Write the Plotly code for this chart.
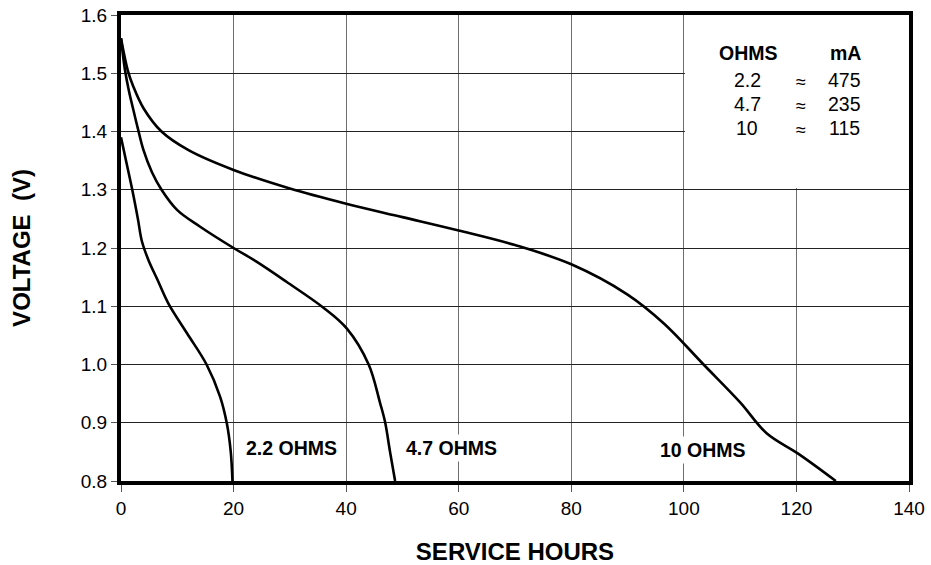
import plotly.graph_objects as go

# ---- data ----
x_10 = [0, 1.2, 2.2, 4, 7.2, 12, 20, 30, 40, 50, 60, 70, 80, 90, 96.5, 103.5, 110, 114.7, 120.3, 127]
v_10 = [1.56, 1.505, 1.477, 1.44, 1.40, 1.368, 1.334, 1.302, 1.276, 1.253, 1.230, 1.205, 1.172, 1.12, 1.07, 1.0, 0.935, 0.882, 0.847, 0.80]

x_47 = [0, 0.7, 1.4, 2.2, 3, 4, 5.5, 7.2, 10, 14, 20, 24, 29.4, 35.9, 40.1, 44, 46, 46.9, 47.8, 48.7]
v_47 = [1.56, 1.506, 1.47, 1.437, 1.405, 1.368, 1.33, 1.30, 1.265, 1.237, 1.20, 1.177, 1.142, 1.098, 1.062, 1.0, 0.935, 0.902, 0.85, 0.80]

x_22 = [0, 1, 2, 3, 3.7, 4.85, 6.5, 8.4, 11.7, 15.2, 17.6, 18.8, 19.5, 19.8]
v_22 = [1.39, 1.345, 1.30, 1.25, 1.212, 1.18, 1.145, 1.105, 1.054, 1.0, 0.945, 0.899, 0.85, 0.80]

curve_labels = ["2.2 OHMS", "4.7 OHMS", "10 OHMS"]
curve_label_x = [30.3, 58.7, 103.4]
curve_label_y = [0.856, 0.856, 0.854]

table_ohms = ["2.2", "4.7", "10"]
table_ma = ["475", "235", "115"]

x_ticks = [0, 20, 40, 60, 80, 100, 120, 140]
y_ticks = [0.8, 0.9, 1.0, 1.1, 1.2, 1.3, 1.4, 1.5, 1.6]

FONT = "Liberation Sans, Arial, Helvetica, sans-serif"

fig = go.Figure()
for xs, vs in [(x_22, v_22), (x_47, v_47), (x_10, v_10)]:
    fig.add_trace(go.Scatter(x=xs, y=vs, mode="lines",
                             line=dict(color="black", width=2.6, shape="spline", smoothing=1.0),
                             showlegend=False, hoverinfo="skip"))

# white box behind the OHMS/mA table (covers gridlines)
fig.add_shape(type="rect", xref="x", yref="y", x0=100.18, x1=140, y0=1.303, y1=1.6,
              fillcolor="white", line=dict(width=0), layer="between")

for t, xx, yy in zip(curve_labels, curve_label_x, curve_label_y):
    fig.add_annotation(x=xx, y=yy, text="<b>%s</b>" % t, showarrow=False,
                       font=dict(family=FONT, size=19.5, color="black"),
                       bgcolor="white", borderpad=2)

# table
fig.add_annotation(x=111.45, y=1.534, text="<b>OHMS</b>", showarrow=False,
                   font=dict(family=FONT, size=19.5, color="black"))
fig.add_annotation(x=128.7, y=1.534, text="<b>mA</b>", showarrow=False,
                   font=dict(family=FONT, size=19.5, color="black"))
row_y = [1.4884, 1.4472, 1.4055]
for o, m, yy in zip(table_ohms, table_ma, row_y):
    fig.add_annotation(x=111.3, y=yy, text=o, showarrow=False,
                       font=dict(family=FONT, size=19.5, color="black"))
    fig.add_annotation(x=120.9, y=yy - 0.003, text="≈", showarrow=False,
                       font=dict(family=FONT, size=18, color="black"))
    fig.add_annotation(x=128.6, y=yy, text=m, showarrow=False,
                       font=dict(family=FONT, size=19.5, color="black"))

fig.update_xaxes(range=[0, 140], tickvals=x_ticks, ticktext=[str(v) for v in x_ticks],
                 showgrid=True, gridcolor="#6e6e6e", gridwidth=1,
                 showline=True, linecolor="black", linewidth=4, mirror=True,
                 ticks="outside", ticklen=7, tickcolor="#555", tickwidth=1,
                 tickfont=dict(family=FONT, size=19, color="black"),
                 ticklabeloverflow="allow",
                 zeroline=False,
                 title=dict(text="<b>SERVICE HOURS</b>", standoff=28,
                            font=dict(family=FONT, size=24, color="black")))
fig.update_yaxes(range=[0.8, 1.6], tickvals=y_ticks, ticktext=["%.1f" % v for v in y_ticks],
                 showgrid=True, gridcolor="#222", gridwidth=1,
                 showline=True, linecolor="black", linewidth=4, mirror=True,
                 ticks="outside", ticklen=6, tickcolor="#555", tickwidth=1,
                 tickfont=dict(family=FONT, size=19, color="black"),
                 ticklabeloverflow="allow",
                 zeroline=False,
                 title=dict(text="<b>VOLTAGE  (V)</b>", standoff=44,
                            font=dict(family=FONT, size=24, color="black")))

fig.update_layout(width=931, height=565,
                  margin=dict(l=121, r=22, t=15, b=84, autoexpand=False),
                  plot_bgcolor="white", paper_bgcolor="white")

fig.write_html("out.html", config={"displayModeBar": False, "staticPlot": True},
               post_script="document.body.style.margin='0';")
